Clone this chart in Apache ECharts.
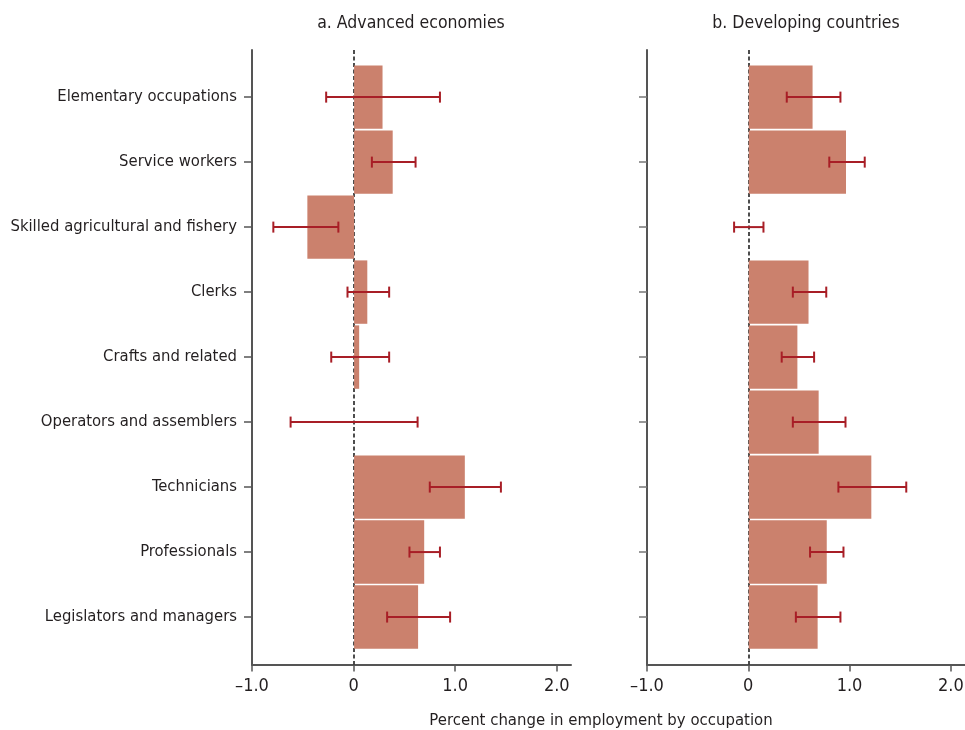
<!DOCTYPE html>
<html>
<head>
<meta charset="utf-8">
<script src="https://cdn.jsdelivr.net/npm/echarts@6/dist/echarts.min.js"></script>
<style>
html,body{margin:0;padding:0;background:#fff;}
#chart{width:965px;height:730px;}
</style>
</head>
<body>
<div id="chart"></div>
<script>
const categories = ["Elementary occupations","Service workers","Skilled agricultural and fishery","Clerks","Crafts and related","Operators and assemblers","Technicians","Professionals","Legislators and managers"];
const advValues = [0.28, 0.38, -0.46, 0.13, 0.05, 0.0, 1.09, 0.69, 0.63];
const advLow    = [-0.27, 0.18, -0.79, -0.06, -0.22, -0.62, 0.75, 0.55, 0.33];
const advHigh   = [0.85, 0.61, -0.15, 0.35, 0.35, 0.63, 1.45, 0.85, 0.95];
const devValues = [0.63, 0.96, 0.0, 0.59, 0.48, 0.69, 1.21, 0.77, 0.68];
const devLow    = [0.38, 0.80, -0.14, 0.44, 0.33, 0.44, 0.89, 0.61, 0.47];
const devHigh   = [0.91, 1.15, 0.15, 0.77, 0.65, 0.96, 1.56, 0.94, 0.91];
const tickValues = [-1, 0, 1, 2];
const tickLabels = ["\u20131.0", "0", "1.0", "2.0"];
const panelTitles = ["a. Advanced economies", "b. Developing countries"];
const xAxisTitle = "Percent change in employment by occupation";

const FONT = "'DejaVu Sans Condensed',sans-serif";
const TXT = '#231f20';
const AXC = '#555555';
const BAR = '#cb816d';
const ERR = '#a81e26';
const catIdx = categories.map((c, i) => i);

const chart = echarts.init(document.getElementById('chart'), null, {renderer: 'canvas'});

function xAxisDef(gi) {
  return {
    type: 'value', gridIndex: gi, min: -1, max: 2.14, interval: 1,
    axisLine: {show: true, onZero: false, lineStyle: {color: AXC, width: 2}},
    axisTick: {show: true, length: 7, lineStyle: {color: AXC, width: 1.5}, customValues: tickValues},
    axisLabel: {
      customValues: tickValues, margin: 13,
      fontFamily: FONT, fontSize: 18, color: TXT,
      formatter: v => tickLabels[tickValues.indexOf(Math.round(v))]
    },
    splitLine: {show: false}
  };
}
function yAxisDef(gi, showLabels) {
  return {
    type: 'value', gridIndex: gi, inverse: true, min: -0.725, max: 8.73,
    axisLine: {show: true, onZero: false, lineStyle: {color: AXC, width: 2}},
    axisTick: {show: true, length: 8, lineStyle: {color: showLabels ? AXC : '#777', width: 1.5}, customValues: catIdx},
    axisLabel: {
      show: showLabels, customValues: catIdx, margin: 15,
      fontFamily: FONT, fontSize: 16.5, color: TXT,
      formatter: v => categories[Math.round(v)]
    },
    splitLine: {show: false}
  };
}

function barSeries(gi, vals) {
  return {
    type: 'custom', xAxisIndex: gi, yAxisIndex: gi, z: 2,
    data: vals.map((v, i) => [v, i]),
    encode: {x: 0, y: 1},
    renderItem: function (params, api) {
      const v = api.value(0), i = api.value(1);
      if (!v) return null;
      const p0 = api.coord([0, i - 0.4877]);
      const p1 = api.coord([v, i + 0.4877]);
      const x = Math.min(p0[0], p1[0]) + 0.5, w = Math.abs(p1[0] - p0[0]);
      return {type: 'rect', shape: {x: x, y: p0[1], width: w, height: p1[1] - p0[1]},
        style: {fill: BAR}};
    },
    markLine: {
      silent: true, symbol: 'none', z: 1,
      lineStyle: {color: '#222', width: 1.6, type: [4, 2.5]},
      label: {show: false},
      data: [{xAxis: 0}]
    }
  };
}
function errSeries(gi, lo, hi) {
  return {
    type: 'custom', xAxisIndex: gi, yAxisIndex: gi, z: 5,
    data: lo.map((l, i) => [l, hi[i], i]),
    encode: {x: [0, 1], y: 2},
    renderItem: function (params, api) {
      const a = api.coord([api.value(0), api.value(2)]);
      const b = api.coord([api.value(1), api.value(2)]);
      const h = 5.5;
      const st = {stroke: ERR, lineWidth: 2};
      return {type: 'group', children: [
        {type: 'line', shape: {x1: a[0], y1: a[1], x2: b[0], y2: b[1]}, style: st},
        {type: 'line', shape: {x1: a[0], y1: a[1] - h, x2: a[0], y2: a[1] + h}, style: st},
        {type: 'line', shape: {x1: b[0], y1: b[1] - h, x2: b[0], y2: b[1] + h}, style: st}
      ]};
    }
  };
}

chart.setOption({
  animation: false,
  backgroundColor: '#ffffff',
  grid: [
    {left: 252, right: 394, top: 50, bottom: 65.5, containLabel: false, outerBoundsMode: 'none'},
    {left: 647, right: 0, top: 50, bottom: 65.5, containLabel: false, outerBoundsMode: 'none'}
  ],
  xAxis: [xAxisDef(0), xAxisDef(1)],
  yAxis: [yAxisDef(0, true), yAxisDef(1, false)],
  graphic: [
    {type: 'text', x: 411, y: 23, style: {text: panelTitles[0], textAlign: 'center', textVerticalAlign: 'middle', fontFamily: FONT, fontSize: 17.5, fill: TXT}},
    {type: 'text', x: 806, y: 23, style: {text: panelTitles[1], textAlign: 'center', textVerticalAlign: 'middle', fontFamily: FONT, fontSize: 17.5, fill: TXT}},
    {type: 'text', x: 601, y: 721, style: {text: xAxisTitle, textAlign: 'center', textVerticalAlign: 'middle', fontFamily: FONT, fontSize: 16.6, fill: TXT}}
  ],
  series: [
    barSeries(0, advValues), errSeries(0, advLow, advHigh),
    barSeries(1, devValues), errSeries(1, devLow, devHigh)
  ]
});
</script>
</body>
</html>
